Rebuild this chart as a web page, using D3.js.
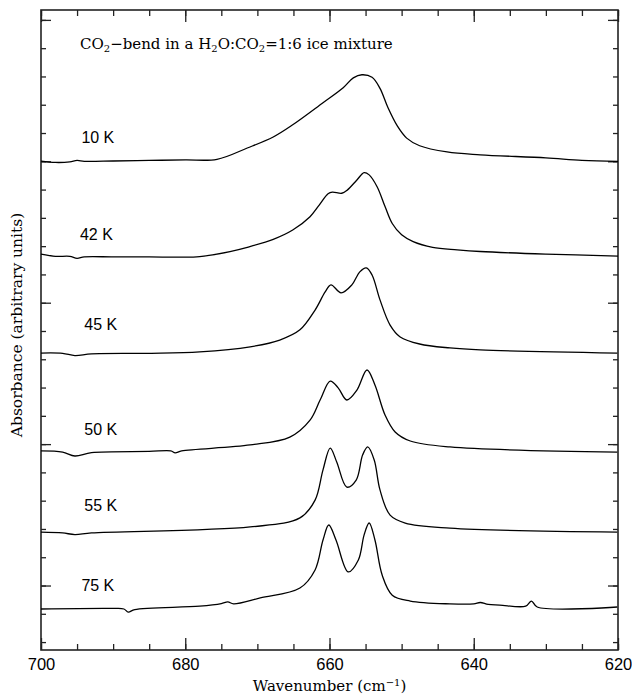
<!DOCTYPE html>
<html><head><meta charset="utf-8">
<script src="https://cdn.jsdelivr.net/npm/d3@7"></script>
<style>body{margin:0;background:#fff}svg{display:block}</style>
</head><body>
<svg id="c" width="632" height="696"></svg>
<script>
// ---- data (wavenumber cm^-1, absorbance arbitrary units incl. vertical offset) ----
const xDomain = [700, 620];
const yDomain = [-0.228, 2.035];
const xMajorTicks = [700, 680, 660, 640, 620];
const xMinorTicks = d3.range(700, 619, -5);
const yMinorTicks = d3.range(-2, 21).map(d => d / 10);
const yMajorTicks = [0, 0.5, 1.0, 1.5, 2.0];
const labels = ["10 K", "42 K", "45 K", "50 K", "55 K", "75 K"];
const labelAbs = [1.565, 1.22, 0.902, 0.532, 0.262, -0.021];
const labelWn = [694.4, 694.6, 694.0, 694.0, 694.0, 694.4];

const s10 = [[700,1.501],[698,1.496],[696,1.498],[695,1.503],[694,1.500],[690,1.501],[685,1.503],[680,1.505],[675.6,1.507],[671.4,1.547],[667.8,1.586],[665.1,1.629],[660.9,1.707],[658.1,1.760],[656.7,1.795],[655.5,1.806],[654.1,1.797],[653.0,1.758],[651.9,1.690],[650.6,1.625],[649.3,1.582],[647.5,1.555],[643.7,1.533],[639.1,1.523],[630,1.512],[625,1.503],[620,1.500]];
const s42 = [[700,1.172],[698,1.164],[696,1.164],[695,1.157],[694,1.162],[690,1.162],[685,1.162],[680.7,1.161],[678.0,1.163],[673.8,1.181],[671.4,1.196],[667.8,1.224],[665.1,1.257],[662.7,1.304],[661.4,1.346],[660.2,1.385],[659.6,1.391],[658.3,1.387],[657.5,1.399],[656.2,1.434],[655.2,1.460],[654.5,1.452],[653.4,1.410],[652.3,1.340],[651.3,1.280],[650.0,1.240],[648.4,1.216],[645.7,1.196],[642.3,1.187],[639.1,1.181],[630,1.172],[620,1.165]];
const s45 = [[700,0.822],[697,0.821],[695.3,0.813],[693,0.819],[685,0.821],[678.0,0.826],[671.0,0.844],[666.9,0.868],[664.1,0.904],[662.0,0.974],[660.6,1.038],[659.8,1.063],[658.4,1.035],[656.9,1.063],[655.8,1.109],[654.9,1.123],[654.1,1.098],[653.0,1.010],[651.6,0.921],[650.2,0.879],[647.5,0.854],[643.3,0.840],[639.1,0.833],[620.1,0.822]];
const s50 = [[700,0.476],[697,0.472],[695.3,0.458],[693,0.470],[685,0.474],[682,0.476],[681.4,0.469],[680.5,0.476],[671.0,0.497],[665.5,0.525],[662.7,0.585],[661.3,0.656],[659.9,0.723],[658.8,0.699],[657.6,0.656],[656.2,0.691],[654.8,0.762],[653.7,0.709],[652.3,0.603],[650.9,0.543],[648.8,0.511],[643.3,0.490],[620.1,0.472]];
const s55 = [[700,0.189],[697,0.186],[695.3,0.180],[693,0.186],[671.0,0.207],[664.1,0.239],[662.0,0.302],[660.9,0.409],[659.9,0.486],[659.0,0.437],[657.6,0.348],[656.3,0.373],[655.4,0.462],[654.7,0.490],[653.8,0.444],[653.0,0.338],[651.6,0.249],[649.5,0.221],[643.3,0.203],[620.1,0.189]];
const s75 = [[700,-0.083],[690,-0.081],[688.5,-0.083],[687.9,-0.094],[687,-0.085],[678.0,-0.073],[675,-0.064],[674.1,-0.058],[673.3,-0.065],[669.6,-0.044],[664.1,-0.009],[662.0,0.055],[660.9,0.161],[660.1,0.214],[659.1,0.161],[657.4,0.048],[656.0,0.090],[655.2,0.179],[654.5,0.221],[653.7,0.161],[652.7,0.037],[651.3,-0.034],[648.8,-0.055],[643.3,-0.065],[640,-0.065],[639.1,-0.060],[638,-0.067],[636.4,-0.069],[632.8,-0.073],[632.0,-0.055],[631.2,-0.076],[620.1,-0.076]];
const spectra = [s10, s42, s45, s50, s55, s75];

// ---- layout ----
const L = 41, R = 618, T = 10, B = 650;
const svg = d3.select("#c");
const x = d3.scaleLinear().domain(xDomain).range([L, R]);
const y = d3.scaleLinear().domain(yDomain).range([B, T]);
const axisColor = "#222";

function styleAxis(g){
  g.select(".domain").remove();
  g.selectAll(".tick line").attr("stroke", axisColor).attr("stroke-width", 1.3);
}
// bottom
svg.append("g").attr("transform", `translate(0,${B})`)
  .call(d3.axisBottom(x).tickValues(xMinorTicks).tickSize(-6).tickFormat(""))
  .call(styleAxis);
svg.append("g").attr("transform", `translate(0,${B})`)
  .call(d3.axisBottom(x).tickValues(xMajorTicks).tickSize(-12).tickPadding(8).tickFormat(d3.format("d")))
  .call(styleAxis)
  .call(g => g.selectAll("text").attr("font-family", "Liberation Sans, Arial, sans-serif").attr("font-size", 16.5).attr("fill", "#000"));
// top
svg.append("g").attr("transform", `translate(0,${T})`)
  .call(d3.axisTop(x).tickValues(xMinorTicks).tickSize(-6).tickFormat(""))
  .call(styleAxis);
svg.append("g").attr("transform", `translate(0,${T})`)
  .call(d3.axisTop(x).tickValues(xMajorTicks).tickSize(-12).tickFormat(""))
  .call(styleAxis);
// left / right
[[d3.axisLeft, L], [d3.axisRight, R]].forEach(([ax, pos]) => {
  svg.append("g").attr("transform", `translate(${pos},0)`)
    .call(ax(y).tickValues(yMinorTicks).tickSize(-5).tickFormat(""))
    .call(styleAxis);
  svg.append("g").attr("transform", `translate(${pos},0)`)
    .call(ax(y).tickValues(yMajorTicks).tickSize(-10).tickFormat(""))
    .call(styleAxis);
});
// frame
svg.append("rect").attr("x", L).attr("y", T).attr("width", R - L).attr("height", B - T)
  .attr("fill", "none").attr("stroke", axisColor).attr("stroke-width", 1.6);

// spectra
const line = d3.line().x(d => x(d[0])).y(d => y(d[1])).curve(d3.curveCatmullRom.alpha(0.5));
svg.append("g").selectAll("path").data(spectra).join("path")
  .attr("d", line).attr("fill", "none").attr("stroke", "#000").attr("stroke-width", 1.3);

// temperature labels
svg.append("g").selectAll("text").data(labels).join("text")
  .attr("x", (d, i) => x(labelWn[i])).attr("y", (d, i) => y(labelAbs[i]))
  .attr("font-family", "Liberation Sans, Arial, sans-serif").attr("font-size", 16)
  .text(d => d);

// title
const serif = "DejaVu Serif, serif";
const title = svg.append("text").attr("x", 80).attr("y", 49)
  .attr("font-family", serif).attr("font-size", 15).attr("fill", "#000");
[["CO",0],["2",1],["\u2212bend in a H",0],["2",1],["O:CO",0],["2",1],["=1:6 ice mixture",0]].forEach(([t, sub]) => {
  title.append("tspan").text(t).attr("font-size", sub ? 10 : null)
    .attr("baseline-shift", sub ? "-25%" : null);
});
// axis titles
const xt = svg.append("text").attr("x", (L + R) / 2).attr("y", 691).attr("text-anchor", "middle")
  .attr("font-family", serif).attr("font-size", 15);
xt.append("tspan").text("Wavenumber (cm");
xt.append("tspan").text("\u22121").attr("font-size", 10).attr("baseline-shift", "super");
xt.append("tspan").text(")");
svg.append("text").attr("transform", `translate(22,325) rotate(-90)`)
  .attr("text-anchor", "middle").attr("font-family", serif).attr("font-size", 15.5)
  .text("Absorbance (arbitrary units)");
</script>
</body></html>
